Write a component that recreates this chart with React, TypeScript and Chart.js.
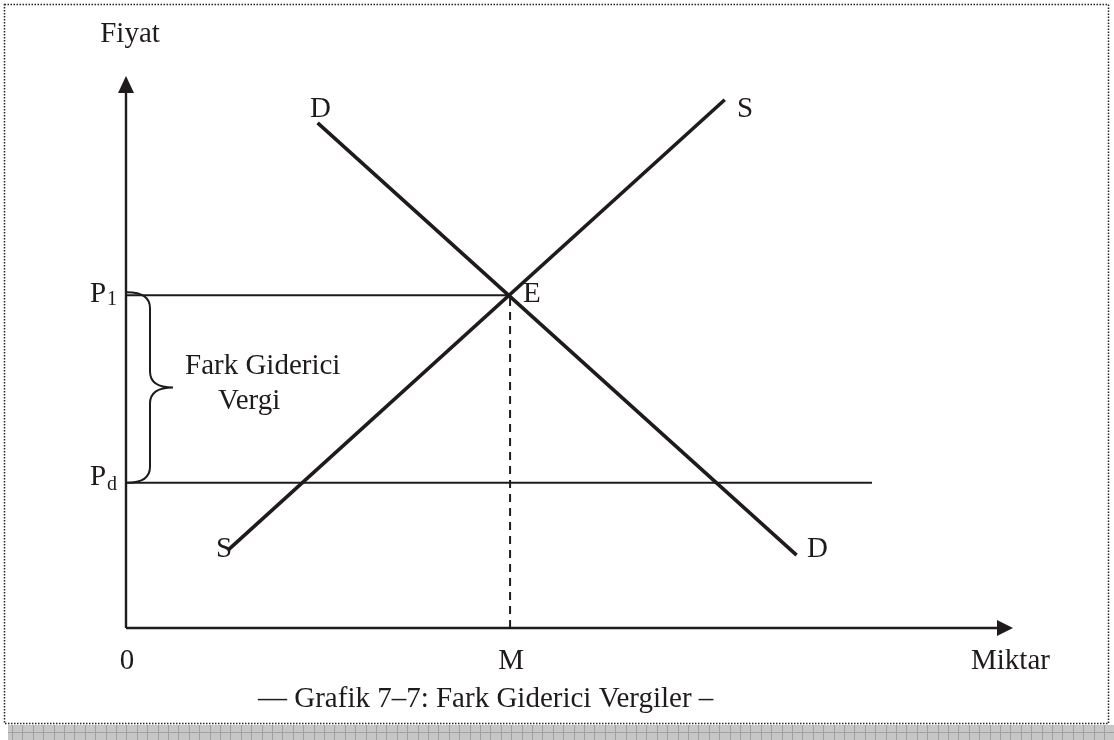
import React, { useEffect, useRef } from "react";
import { Chart, registerables } from "chart.js";

Chart.register(...registerables);

// ---- Data (axis units: 0..100 on both axes) ----
const demandX = [21.6, 75.6];
const demandY = [91.5, 13.2];
const supplyX = [11.5, 67.5];
const supplyY = [14.1, 95.7];
const equilibriumXY = [43.3, 60.3]; // E = (M, P1)
const priceLevels = [60.3, 26.3]; // P1, Pd
const pdLineEnd = 84.1;
const axisMax = [100, 100];

const labelsText = {
  yTitle: "Fiyat",
  xTitle: "Miktar",
  origin: "0",
  m: "M",
  e: "E",
  d: "D",
  s: "S",
  brace1: "Fark Giderici",
  brace2: "Vergi",
  caption: "— Grafik 7–7: Fark Giderici Vergiler –",
};

const INK = "#1f1b1c";
const FONT = "\"Liberation Serif\", \"Times New Roman\", serif";

const pts = (xs: number[], ys: number[]) => xs.map((x, i) => ({ x, y: ys[i] }));

export default function App() {
  const ref = useRef<HTMLCanvasElement | null>(null);

  useEffect(() => {
    document.body.style.margin = "0";
    const canvas = ref.current;
    if (!canvas) return;

    const [eX, eY] = equilibriumXY;
    const [p1, pd] = priceLevels;

    const framePlugin = {
      id: "frame",
      beforeDraw(chart: any) {
        const ctx = chart.ctx;
        ctx.save();
        ctx.fillStyle = "#ffffff";
        ctx.fillRect(0, 0, chart.width, chart.height);
        // shadow strip
        ctx.fillStyle = "#c6c6c6";
        ctx.fillRect(8, 725, chart.width - 8, 15);
        ctx.strokeStyle = "#a0a0a0";
        ctx.lineWidth = 1;
        for (let x = 12; x < chart.width; x += 10.4) {
          ctx.beginPath();
          ctx.moveTo(Math.round(x) + 0.5, 725);
          ctx.lineTo(Math.round(x) + 0.5, 740);
          ctx.stroke();
        }
        ctx.beginPath();
        ctx.moveTo(8, 732.5);
        ctx.lineTo(chart.width, 732.5);
        ctx.stroke();
        // dotted border
        ctx.strokeStyle = "#222";
        ctx.lineWidth = 1.5;
        ctx.setLineDash([1.5, 1.5]);
        ctx.strokeRect(4.5, 4.5, 1104, 719);
        ctx.setLineDash([]);
        ctx.restore();
      },
    };

    const annotPlugin = {
      id: "annot",
      afterDatasetsDraw(chart: any) {
        const ctx = chart.ctx;
        const xs = chart.scales.x;
        const ys = chart.scales.y;
        const px = (v: number) => xs.getPixelForValue(v);
        const py = (v: number) => ys.getPixelForValue(v);
        ctx.save();
        ctx.fillStyle = INK;
        ctx.strokeStyle = INK;

        // arrowheads
        const ox = px(0);
        const oy = py(0);
        const yTip = py(axisMax[1]);
        const xTip = px(axisMax[0]);
        ctx.beginPath();
        ctx.moveTo(ox, yTip);
        ctx.lineTo(ox - 8, yTip + 17);
        ctx.lineTo(ox + 8, yTip + 17);
        ctx.closePath();
        ctx.fill();
        ctx.beginPath();
        ctx.moveTo(xTip, oy);
        ctx.lineTo(xTip - 16, oy - 8);
        ctx.lineTo(xTip - 16, oy + 8);
        ctx.closePath();
        ctx.fill();

        // brace
        const top = py(p1) - 3;
        const bot = py(pd);
        const mid = (top + bot) / 2;
        const x0 = ox + 1;
        const x1 = ox + 24;
        const tip = ox + 47;
        ctx.lineWidth = 2;
        ctx.beginPath();
        ctx.moveTo(x0, top);
        ctx.quadraticCurveTo(x1, top, x1, top + 16);
        ctx.lineTo(x1, mid - 16);
        ctx.quadraticCurveTo(x1, mid, tip, mid);
        ctx.quadraticCurveTo(x1, mid, x1, mid + 16);
        ctx.lineTo(x1, bot - 16);
        ctx.quadraticCurveTo(x1, bot, x0, bot);
        ctx.stroke();

        // texts
        ctx.textBaseline = "alphabetic";
        const big = `29px ${FONT}`;
        const small = `20px ${FONT}`;
        ctx.font = big;
        ctx.textAlign = "center";
        ctx.fillText(labelsText.yTitle, ox + 4, 42);
        ctx.textAlign = "left";
        // P1
        ctx.fillText("P", 90, py(p1) + 7);
        ctx.font = small;
        ctx.fillText("1", 107, py(p1) + 10);
        // Pd
        ctx.font = big;
        ctx.fillText("P", 90, py(pd) + 2);
        ctx.font = small;
        ctx.fillText("d", 107, py(pd) + 7);
        ctx.font = big;
        ctx.fillText(labelsText.brace1, 185, 374);
        ctx.fillText(labelsText.brace2, 218, 409);
        ctx.fillText(labelsText.e, px(eX) + 13, py(eY) + 7);
        ctx.fillText(labelsText.d, 310, 117);
        ctx.fillText(labelsText.s, 737, 117);
        ctx.fillText(labelsText.s, 216, 557);
        ctx.fillText(labelsText.d, 807, 557);
        ctx.textAlign = "center";
        ctx.fillText(labelsText.origin, ox + 1, 669);
        ctx.fillText(labelsText.m, px(eX) + 1, 669);
        ctx.textAlign = "left";
        ctx.fillText(labelsText.xTitle, 971, 669);
        ctx.fillText(labelsText.caption, 258, 707);
        ctx.restore();
      },
    };

    const base = {
      showLine: true,
      pointRadius: 0,
      pointHoverRadius: 0,
      borderColor: INK,
      backgroundColor: INK,
      fill: false,
      tension: 0,
      clip: false as any,
      borderCapStyle: "butt" as const,
    };

    const chart = new Chart(canvas, {
      type: "scatter",
      data: {
        datasets: [
          { ...base, label: "y-axis", data: [{ x: 0, y: 0 }, { x: 0, y: axisMax[1] - 2 }], borderWidth: 2.4 },
          { ...base, label: "x-axis", data: [{ x: 0, y: 0 }, { x: axisMax[0] - 1.5, y: 0 }], borderWidth: 2.4 },
          { ...base, label: "P1", data: [{ x: 0, y: p1 }, { x: eX, y: p1 }], borderWidth: 2 },
          { ...base, label: "Pd", data: [{ x: 0, y: pd }, { x: pdLineEnd, y: pd }], borderWidth: 2 },
          { ...base, label: "M", data: [{ x: eX, y: 0 }, { x: eX, y: eY }], borderWidth: 2, borderDash: [8, 6] },
          { ...base, label: "D", data: pts(demandX, demandY), borderWidth: 3.6 },
          { ...base, label: "S", data: pts(supplyX, supplyY), borderWidth: 3.6 },
        ],
      },
      options: {
        responsive: false,
        animation: false,
        devicePixelRatio: 1,
        layout: { padding: { left: 126, right: 101, top: 76, bottom: 112 } },
        scales: {
          x: { type: "linear", min: 0, max: axisMax[0], display: false },
          y: { type: "linear", min: 0, max: axisMax[1], display: false },
        },
        plugins: { legend: { display: false }, tooltip: { enabled: false }, title: { display: false } },
        events: [],
      },
      plugins: [framePlugin, annotPlugin],
    });

    return () => chart.destroy();
  }, []);

  return <canvas ref={ref} width={1114} height={740} style={{ display: "block" }} />;
}
